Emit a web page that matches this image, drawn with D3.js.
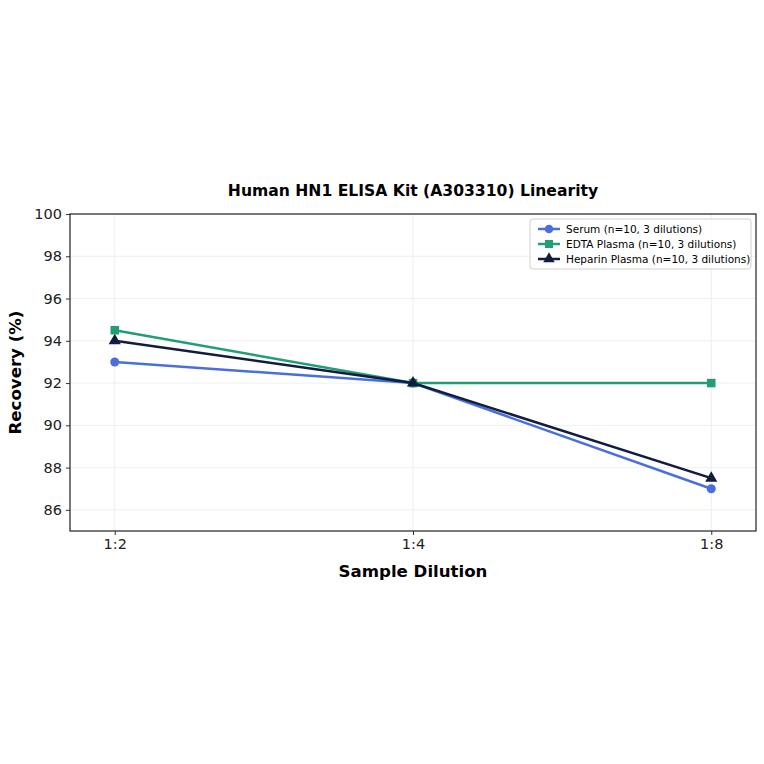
<!DOCTYPE html>
<html>
<head>
<meta charset="utf-8">
<script src="https://cdn.jsdelivr.net/npm/d3@7"></script>
<style>
  body { margin: 0; background: #fff; }
  text { font-family: "DejaVu Sans", sans-serif; }
</style>
</head>
<body>
<div id="chart"></div>
<script>
// data
const categories = ["1:2", "1:4", "1:8"];
const serum = [93, 92, 87];
const edta = [94.5, 92, 92];
const heparin = [94, 92, 87.5];
const yTicks = [86, 88, 90, 92, 94, 96, 98, 100];
const seriesNames = ["Serum (n=10, 3 dilutions)", "EDTA Plasma (n=10, 3 dilutions)", "Heparin Plasma (n=10, 3 dilutions)"];

const series = [
  { name: seriesNames[0], values: serum, color: "#4a6fdc", shape: d3.symbolCircle, size: 64 },
  { name: seriesNames[1], values: edta, color: "#219e76", shape: d3.symbolSquare, size: 72 },
  { name: seriesNames[2], values: heparin, color: "#111c3e", shape: d3.symbolTriangle, size: 64 }
];

const W = 764, H = 764;
const m = { left: 70, right: 8, top: 214, bottom: 233 };
const iw = W - m.left - m.right, ih = H - m.top - m.bottom;

const svg = d3.select("#chart").append("svg")
  .attr("width", W).attr("height", H);

const g = svg.append("g").attr("transform", `translate(${m.left},${m.top})`);

const x = d3.scaleLinear().domain([-0.15, 2.15]).range([0, iw]);
const y = d3.scaleLinear().domain([85, 100]).range([ih, 0]);

// 网格
g.append("g").selectAll("line.gy").data(yTicks).enter().append("line")
  .attr("x1", 0).attr("x2", iw)
  .attr("y1", d => y(d)).attr("y2", d => y(d))
  .attr("stroke", "#ebebeb").attr("stroke-width", 0.8);
g.append("g").selectAll("line.gx").data(categories).enter().append("line")
  .attr("x1", (d, i) => x(i)).attr("x2", (d, i) => x(i))
  .attr("y1", 0).attr("y2", ih)
  .attr("stroke", "#ebebeb").attr("stroke-width", 0.8);

// 坐标轴
const xAxis = d3.axisBottom(x).tickValues([0, 1, 2])
  .tickFormat(i => categories[i]).tickSize(4).tickPadding(4);
const yAxis = d3.axisLeft(y).tickValues(yTicks).tickSize(4).tickPadding(4);

g.append("g").attr("transform", `translate(0,${ih})`).call(xAxis)
  .call(a => a.select(".domain").remove())
  .call(a => a.selectAll("line").attr("stroke", "#333"))
  .call(a => a.selectAll("text").attr("font-size", 14.5).attr("fill", "#222").attr("font-family", "DejaVu Sans"));
g.append("g").call(yAxis)
  .call(a => a.select(".domain").remove())
  .call(a => a.selectAll("line").attr("stroke", "#333"))
  .call(a => a.selectAll("text").attr("font-size", 14.5).attr("fill", "#222").attr("font-family", "DejaVu Sans"));

g.append("rect").attr("width", iw).attr("height", ih)
  .attr("fill", "none").attr("stroke", "#222").attr("stroke-width", 1.2);

// 折线
const line = d3.line().x((d, i) => x(i)).y(d => y(d));
series.forEach(s => {
  g.append("path").datum(s.values)
    .attr("d", line).attr("fill", "none")
    .attr("stroke", s.color).attr("stroke-width", 2.5);
  g.selectAll(null).data(s.values).enter().append("path")
    .attr("d", d3.symbol().type(s.shape).size(s.size))
    .attr("transform", (d, i) => `translate(${x(i)},${y(d)})`)
    .attr("fill", s.color);
});

// 标题
svg.append("text").attr("x", m.left + iw / 2).attr("y", 196)
  .attr("text-anchor", "middle").attr("font-size", 15.6).attr("font-weight", "bold")
  .text("Human HN1 ELISA Kit (A303310) Linearity");
svg.append("text").attr("x", m.left + iw / 2).attr("y", 577)
  .attr("text-anchor", "middle").attr("font-size", 16.6).attr("font-weight", "bold")
  .text("Sample Dilution");
svg.append("text").attr("transform", `translate(21,${m.top + ih / 2}) rotate(-90)`)
  .attr("text-anchor", "middle").attr("font-size", 16.6).attr("font-weight", "bold")
  .text("Recovery (%)");

// 图例
const lg = g.append("g").attr("transform", `translate(${iw - 226},5)`);
lg.append("rect").attr("width", 221).attr("height", 50).attr("rx", 3)
  .attr("fill", "#fff").attr("fill-opacity", 0.8).attr("stroke", "#d0d0d0");
series.forEach((s, i) => {
  const row = lg.append("g").attr("transform", `translate(8,${10 + i * 15})`);
  row.append("line").attr("x1", 0).attr("x2", 22).attr("stroke", s.color).attr("stroke-width", 2.5);
  row.append("path").attr("d", d3.symbol().type(s.shape).size(s.size * 0.9))
    .attr("transform", "translate(11,0)").attr("fill", s.color);
  row.append("text").attr("x", 28).attr("dy", "0.35em").attr("font-size", 10.5).text(s.name);
});
</script>
</body>
</html>
